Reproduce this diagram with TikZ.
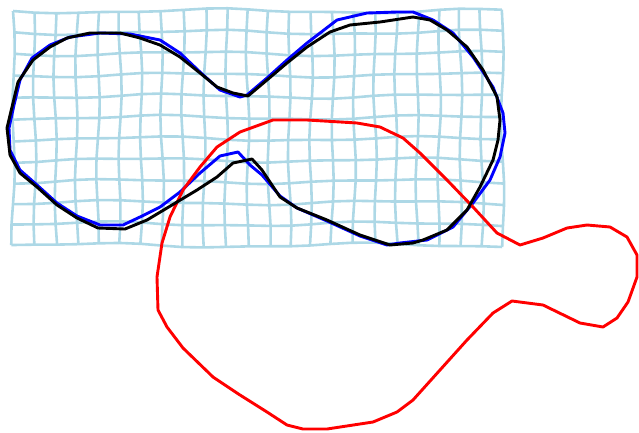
\documentclass[tikz,border=0pt]{standalone}
\definecolor{bleuclair}{RGB}{173,216,230}
\begin{document}
\begin{tikzpicture}[x=1pt, y=-1pt, line join=round,
  grille/.style={draw=bleuclair, line width=2.6pt},
  courbe/.style={line width=2.9pt},
  declare function={gx(\i,\j)=13+21.3*\i+1.4*sin(45*\i+60*\j)+0.8*sin(20*\j-70*\i);
                    gy(\i,\j)=11+21.3*\j+2*sin(28*\i+15*\j)+0.8*sin(65*\i-40*\j);}]
  \useasboundingbox (0,0) rectangle (639,432);

  % Grille d'eformee
  \foreach \j in {0,...,11} {
    \draw[grille] plot[domain=0:23, samples=24, variable=\i] ({gx(\i,\j)}, {gy(\i,\j)});
  }
  \foreach \i in {0,...,23} {
    \draw[grille] plot[domain=0:11, samples=12, variable=\j] ({gx(\i,\j)}, {gy(\i,\j)});
  }

  % Contour bleu
  \draw[courbe, blue] (100,33) -- (130,34) -- (160,40) -- (180,53) -- (200,72) -- (220,90)
    -- (240,97) -- (247,95) -- (267,78) -- (287,60) -- (307,43) -- (337,20) -- (367,13)
    -- (397,12) -- (413,12) -- (433,20) -- (453,33) -- (473,57) -- (493,87) -- (503,113)
    -- (505,133) -- (500,157) -- (490,180) -- (473,203) -- (453,227) -- (427,240)
    -- (400,243) -- (387,245) -- (360,236) -- (327,221) -- (297,208) -- (280,196)
    -- (262,175) -- (250,165) -- (238,152) -- (220,156) -- (200,173) -- (180,192)
    -- (160,207) -- (140,217) -- (123,225) -- (100,225) -- (77,216) -- (57,203)
    -- (37,185) -- (20,170) -- (10,150) -- (9,128) -- (14,105) -- (20,80) -- (32,58)
    -- (50,45) -- (70,37) -- cycle;

  % Contour rouge
  \draw[courbe, red] (273,120) -- (307,120) -- (357,123) -- (380,127) -- (403,138)
    -- (420,153) -- (447,180) -- (473,207) -- (497,233) -- (520,245) -- (543,238)
    -- (567,228) -- (587,225) -- (610,227) -- (627,237) -- (637,255) -- (637,277)
    -- (628,302) -- (617,318) -- (603,327) -- (580,323) -- (543,305) -- (512,301)
    -- (493,313) -- (467,340) -- (440,370) -- (413,400) -- (397,412) -- (373,422)
    -- (327,429) -- (303,429) -- (287,425) -- (267,412) -- (240,395) -- (213,377)
    -- (183,348) -- (167,327) -- (158,310) -- (157,277) -- (162,243) -- (170,217)
    -- (183,190) -- (200,167) -- (217,147) -- (240,132) -- cycle;

  % Contour noir
  \draw[courbe, black] (90,33) -- (120,33) -- (140,38) -- (160,45) -- (180,57) -- (200,73)
    -- (217,87) -- (233,93) -- (248,96) -- (267,80) -- (287,63) -- (307,47) -- (330,32)
    -- (350,25) -- (380,22) -- (413,17) -- (430,20) -- (447,30) -- (467,47) -- (483,70)
    -- (497,97) -- (500,120) -- (498,140) -- (493,160) -- (480,187) -- (467,210)
    -- (447,230) -- (423,240) -- (413,243) -- (390,245) -- (360,235) -- (327,220)
    -- (297,208) -- (280,197) -- (262,170) -- (252,159) -- (233,163) -- (217,177)
    -- (197,190) -- (167,208) -- (147,220) -- (125,229) -- (98,228) -- (77,218)
    -- (57,205) -- (37,187) -- (20,173) -- (10,155) -- (7,128) -- (12,107) -- (18,82)
    -- (33,60) -- (50,47) -- (67,38) -- cycle;
\end{tikzpicture}
\end{document}
